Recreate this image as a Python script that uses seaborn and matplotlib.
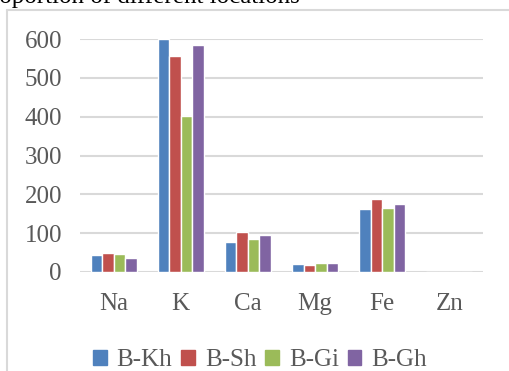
import matplotlib
matplotlib.use("Agg")
import matplotlib.pyplot as plt
import matplotlib.patches as mpatches
import seaborn as sns
import pandas as pd

elements = ["Na", "K", "Ca", "Mg", "Fe", "Zn"]
locations = ["B-Kh", "B-Sh", "B-Gi", "B-Gh"]
b_kh = [43, 600, 76, 21, 163, 0]
b_sh = [48, 557, 104, 19, 187, 0]
b_gi = [46, 403, 84, 22, 165, 0]
b_gh = [36, 585, 94, 24, 174, 0]
colors = ["#4F81BD", "#C0504D", "#9BBB59", "#8064A2"]

TEXT = "#595959"
GRID = "#D9D9D9"
FS = 18

df = pd.DataFrame({
    "element": elements * 4,
    "location": [loc for loc in locations for _ in elements],
    "value": b_kh + b_sh + b_gi + b_gh,
})

sns.set_style("white")
plt.rcParams["font.family"] = ["Liberation Serif", "DejaVu Serif"]

fig = plt.figure(figsize=(5.09, 3.71), dpi=100)
ax = fig.add_axes([80 / 509, 1 - 272 / 371, 403 / 509, 233 / 371])

sns.barplot(data=df, x="element", y="value", hue="location", order=elements,
            hue_order=locations, palette=colors, width=0.685, saturation=1,
            edgecolor="white", linewidth=1.0, ax=ax, legend=False, zorder=3)

ax.set_ylim(0, 600)
ax.set_xlim(-0.5, len(elements) - 0.5)
ax.set_yticks(range(0, 601, 100))
ax.yaxis.grid(True, color=GRID, linewidth=1.5, zorder=0)
ax.set_axisbelow(True)
for s in ax.spines.values():
    s.set_visible(False)
ax.tick_params(axis="both", length=0, labelsize=FS, colors=TEXT)
ax.tick_params(axis="y", pad=13)
ax.tick_params(axis="x", pad=15)
ax.set_xlabel("")
ax.set_ylabel("")

# outer chart frame (top and left edges visible)
fig.add_artist(plt.Line2D([7 / 509, 1.0], [1 - 10 / 371] * 2, color=GRID,
                          linewidth=1.5, transform=fig.transFigure))
fig.add_artist(plt.Line2D([7 / 509] * 2, [0.0, 1 - 10 / 371], color=GRID,
                          linewidth=1.5, transform=fig.transFigure))

# caption text cut off at the top of the picture
fig.text(300 / 509, 1 - 3 / 371, "Proportion of different locations",
         ha="right", va="baseline", fontsize=FS, color="black")

handles = [mpatches.Patch(color=c, label=l) for c, l in zip(colors, locations)]
fig.legend(handles=handles, loc="center", bbox_to_anchor=(260 / 509, 1 - 360 / 371),
           ncol=4, frameon=False, fontsize=FS, labelcolor=TEXT,
           handlelength=0.55, handleheight=0.55, handletextpad=0.4,
           columnspacing=0.35, borderaxespad=0)

fig.savefig("out.png", dpi=100)
